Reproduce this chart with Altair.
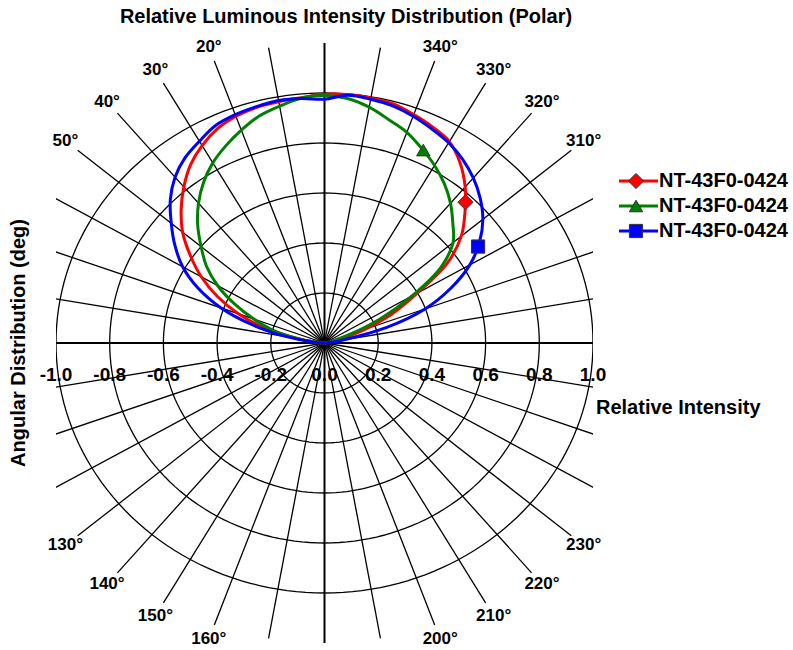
import numpy as np
import pandas as pd
import altair as alt

# ---------------- data ----------------
# angle (deg) measured from the 0-deg (up) direction, positive to the right (clockwise)
angles = [-90, -85, -80, -75, -70, -65, -60, -55, -50, -45, -40, -35, -30, -25, -20, -15,
          -10, -5, 0, 5, 10, 15, 20, 25, 30, 35, 40, 45, 50, 55, 60, 65, 70, 75, 80, 85, 90]
red = [0.0, 0.03, 0.10, 0.23, 0.34, 0.44, 0.53, 0.61, 0.69, 0.755, 0.815, 0.87, 0.912, 0.945,
       0.965, 0.976, 0.980, 0.985, 0.995, 0.998, 0.995, 0.99, 0.972, 0.953, 0.93, 0.88, 0.815,
       0.74, 0.665, 0.56, 0.40, 0.28, 0.16, 0.06, 0.02, 0.005, 0.0]
green = [0.0, 0.03, 0.10, 0.20, 0.28, 0.37, 0.46, 0.537, 0.60, 0.668, 0.73, 0.785, 0.832, 0.87,
         0.906, 0.94, 0.962, 0.984, 0.99, 0.982, 0.958, 0.925, 0.897, 0.858, 0.82, 0.778, 0.73,
         0.676, 0.625, 0.53, 0.375, 0.23, 0.10, 0.03, 0.01, 0.0, 0.0]
blue = [0.0, 0.04, 0.14, 0.275, 0.41, 0.52, 0.61, 0.68, 0.745, 0.812, 0.866, 0.905, 0.932, 0.96,
        0.972, 0.979, 0.985, 0.982, 0.975, 0.995, 0.99, 0.982, 0.965, 0.945, 0.925, 0.897, 0.862,
        0.82, 0.77, 0.705, 0.625, 0.52, 0.40, 0.24, 0.075, 0.02, 0.0]

series_names = ["NT-43F0-0424", "NT-43F0-0424", "NT-43F0-0424"]
series_colors = ["#ff0000", "#008000", "#0000ff"]
series_shapes = ["diamond", "triangle-up", "square"]
marker_angles = [43.0, 25.5, 56.0]
marker_values = [0.77, 0.855, 0.69]

ring_radii = [0.2, 0.4, 0.6, 0.8, 1.0]
spoke_angles = list(range(0, 360, 10))       # counter-clockwise from top
angle_label_angles = [20, 30, 40, 50, 130, 140, 150, 160, 200, 210, 220, 230, 310, 320, 330, 340]
tick_values = [-1.0, -0.8, -0.6, -0.4, -0.2, 0.0, 0.2, 0.4, 0.6, 0.8, 1.0]
tick_labels = ["-1.0", "-0.8", "-0.6", "-0.4", "-0.2", "0.0", "0.2", "0.4", "0.6", "0.8", "1.0"]

title_text = "Relative Luminous Intensity Distribution (Polar)"
x_title = "Relative Intensity"
y_title = "Angular Distribution (deg)"

# ---------------- tables ----------------
FONT = "Liberation Sans"
SPOKE_R = 1.2
LABEL_R = 1.26
marker_sizes = [230, 180, 175]

curve_rows = []
for s, vals in enumerate([red, green, blue]):
    for i, (a, r) in enumerate(zip(angles, vals)):
        t = np.radians(a)
        curve_rows.append({"series": s, "idx": i, "x": r * np.sin(t), "y": r * np.cos(t),
                           "color": series_colors[s]})
curves = pd.DataFrame(curve_rows)

marker_rows = []
for s in range(3):
    t = np.radians(marker_angles[s])
    r = marker_values[s]
    marker_rows.append({"series": s, "x": r * np.sin(t), "y": r * np.cos(t),
                        "color": series_colors[s], "shape": series_shapes[s],
                        "size": marker_sizes[s]})
markers = pd.DataFrame(marker_rows)

ring_rows = []
for k, r in enumerate(ring_radii):
    for j, t in enumerate(np.arange(0, 361, 2)):
        tt = np.radians(t)
        ring_rows.append({"ring": k, "idx": j, "x": r * np.sin(tt), "y": r * np.cos(tt)})
rings = pd.DataFrame(ring_rows)

spokes = pd.DataFrame({
    "angle": spoke_angles,
    "x0": 0.0, "y0": 0.0,
    "x1": [-SPOKE_R * np.sin(np.radians(a)) for a in spoke_angles],
    "y1": [SPOKE_R * np.cos(np.radians(a)) for a in spoke_angles],
    "major": [a % 90 == 0 for a in spoke_angles],
})

alabels = pd.DataFrame({
    "text": [f"{a}°" for a in angle_label_angles],
    "x": [-LABEL_R * np.sin(np.radians(a)) for a in angle_label_angles],
    "y": [LABEL_R * np.cos(np.radians(a)) for a in angle_label_angles],
})

ticks = pd.DataFrame({"v": tick_values, "label": tick_labels, "zero": 0.0})

xs = alt.Scale(domain=[-1.0, 1.0], nice=False, zero=False)
ys = alt.Scale(domain=[-1.2, 1.2], nice=False, zero=False)
X = lambda f: alt.X(f, type="quantitative", scale=xs, axis=None)
Y = lambda f: alt.Y(f, type="quantitative", scale=ys, axis=None)

ring_layer = alt.Chart(rings).mark_line(color="black", strokeWidth=1.3, clip=True).encode(
    x=X("x"), y=Y("y"), detail="ring:N", order="idx:Q")

minor_spokes = alt.Chart(spokes).transform_filter("!datum.major").mark_rule(
    color="black", strokeWidth=1.3, clip=True).encode(
    x=X("x0"), y=Y("y0"), x2="x1", y2="y1")
major_spokes = alt.Chart(spokes).transform_filter("datum.major").mark_rule(
    color="black", strokeWidth=2, clip=True).encode(
    x=X("x0"), y=Y("y0"), x2="x1", y2="y1")

curve_layer = alt.Chart(curves).mark_line(strokeWidth=3, interpolate="catmull-rom", clip=True).encode(
    x=X("x"), y=Y("y"), color=alt.Color("color:N", scale=None), detail="series:N", order="idx:Q")

marker_layer = alt.Chart(markers).mark_point(filled=True, stroke="#333333",
                                             strokeWidth=1, opacity=1).encode(
    x=X("x"), y=Y("y"), fill=alt.Fill("color:N", scale=None), shape=alt.Shape("shape:N", scale=None),
    size=alt.Size("size:Q", scale=None))

angle_text = alt.Chart(alabels).mark_text(font=FONT, fontWeight="bold", fontSize=17,
                                          align="center", baseline="middle").encode(
    x=X("x"), y=Y("y"), text="text:N")

tick_text = alt.Chart(ticks).mark_text(font=FONT, fontWeight="bold", fontSize=19,
                                       align="center", baseline="middle", dy=32).encode(
    x=X("v"), y=Y("zero"), text="label:N")

title_layer = alt.Chart(pd.DataFrame({"t": [title_text]})).mark_text(
    font=FONT, fontWeight="bold", fontSize=20, align="center", baseline="middle").encode(
    x=alt.value(290), y=alt.value(-26), text="t:N")

xtitle_layer = alt.Chart(pd.DataFrame({"t": [x_title]})).mark_text(
    font=FONT, fontWeight="bold", fontSize=20, align="left", baseline="middle").encode(
    x=alt.value(540), y=alt.value(365), text="t:N")

ytitle_layer = alt.Chart(pd.DataFrame({"t": [y_title]})).mark_text(
    font=FONT, fontWeight="bold", fontSize=20, align="center", baseline="middle", angle=270).encode(
    x=alt.value(-37), y=alt.value(300), text="t:N")

legend_layers = []
row_y = [138, 163, 188]
for s in range(3):
    ld = pd.DataFrame({"name": [series_names[s]], "color": [series_colors[s]],
                       "shape": [series_shapes[s]], "size": [marker_sizes[s]]})
    base = alt.Chart(ld)
    legend_layers.append(base.mark_rule(strokeWidth=3).encode(
        x=alt.value(563), x2=alt.value(602), y=alt.value(row_y[s]),
        color=alt.Color("color:N", scale=None)))
    legend_layers.append(base.mark_point(filled=True, stroke="#333333", strokeWidth=1,
                                         opacity=1).encode(
        x=alt.value(580), y=alt.value(row_y[s]),
        fill=alt.Fill("color:N", scale=None), shape=alt.Shape("shape:N", scale=None),
        size=alt.Size("size:Q", scale=None)))
    legend_layers.append(base.mark_text(font=FONT, fontWeight="bold", fontSize=20, align="left",
                                        baseline="middle").encode(
        x=alt.value(603), y=alt.value(row_y[s]), text="name:N"))

chart = alt.layer(
    ring_layer, minor_spokes, major_spokes, curve_layer, marker_layer,
    angle_text, tick_text, title_layer, xtitle_layer, ytitle_layer, *legend_layers
).properties(
    width=537, height=600,
    padding={"left": 56, "top": 43, "right": 200, "bottom": 7},
    autosize=alt.AutoSizeParams(type="none"),
).configure_view(stroke=None)

chart.save("out.html", embed_options={"renderer": "svg", "actions": False})
